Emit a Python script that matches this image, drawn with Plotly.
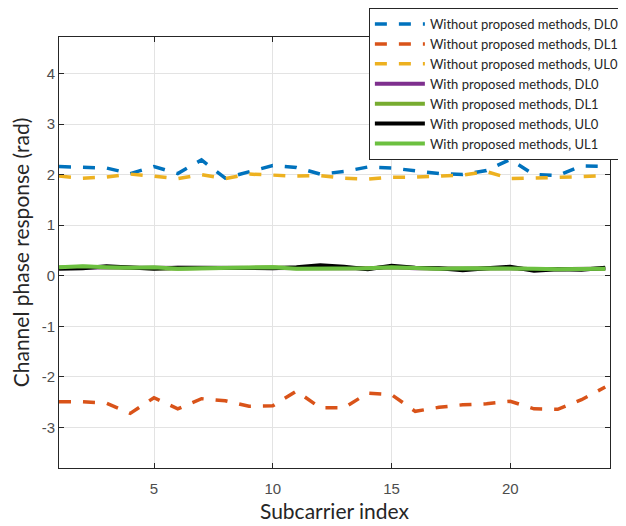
import plotly.graph_objects as go

subcarrier = list(range(1, 25))

dl0_without = [2.16, 2.15, 2.13, 2.02, 2.16, 2.02, 2.29, 1.93, 2.05, 2.18, 2.14, 2.01,
               2.06, 2.15, 2.13, 2.07, 2.02, 2.00, 2.08, 2.30, 2.00, 1.98, 2.17, 2.16]
dl1_without = [-2.49, -2.49, -2.52, -2.72, -2.41, -2.63, -2.43, -2.47, -2.58, -2.57, -2.28, -2.61,
               -2.61, -2.32, -2.35, -2.68, -2.60, -2.55, -2.53, -2.48, -2.63, -2.64, -2.45, -2.20]
ul0_without = [1.97, 1.93, 1.95, 2.01, 1.97, 1.92, 2.00, 1.92, 2.01, 1.99, 1.97, 1.98,
               1.93, 1.91, 1.95, 1.95, 1.97, 1.99, 2.06, 1.92, 1.93, 1.94, 1.96, 1.98]
dl0_with = [0.16, 0.17, 0.17, 0.16, 0.16, 0.15, 0.15, 0.16, 0.16, 0.16, 0.15, 0.16,
            0.16, 0.15, 0.17, 0.15, 0.15, 0.14, 0.15, 0.15, 0.13, 0.13, 0.13, 0.14]
dl1_with = [0.16, 0.18, 0.17, 0.16, 0.16, 0.14, 0.15, 0.15, 0.16, 0.17, 0.15, 0.15,
            0.15, 0.15, 0.17, 0.15, 0.14, 0.14, 0.15, 0.15, 0.13, 0.13, 0.13, 0.14]
ul0_with = [0.14, 0.15, 0.19, 0.17, 0.14, 0.16, 0.16, 0.15, 0.16, 0.15, 0.17, 0.21,
            0.18, 0.13, 0.20, 0.16, 0.15, 0.11, 0.15, 0.18, 0.10, 0.13, 0.12, 0.16]
ul1_with = [0.17, 0.19, 0.17, 0.16, 0.17, 0.14, 0.15, 0.16, 0.16, 0.17, 0.14, 0.14,
            0.15, 0.15, 0.17, 0.15, 0.14, 0.15, 0.15, 0.14, 0.14, 0.13, 0.13, 0.14]

x_ticks = [5, 10, 15, 20]
y_ticks = [-3, -2, -1, 0, 1, 2, 3, 4]
y_tick_labels = ["-3", "-2", "-1", "0", "1", "2", "3", "4"]

series = [
    ("Without proposed methods, DL0", dl0_without, "#0072BD", "12px,12px", 3.5),
    ("Without proposed methods, DL1", dl1_without, "#D95319", "12px,12px", 3.5),
    ("Without proposed methods, UL0", ul0_without, "#EDB120", "12px,12px", 3.5),
    ("With proposed methods, DL0", dl0_with, "#7E2F8E", "solid", 4),
    ("With proposed methods, DL1", dl1_with, "#77AC30", "solid", 4),
    ("With proposed methods, UL0", ul0_with, "#000000", "solid", 4),
    ("With proposed methods, UL1", ul1_with, "#6CC040", "solid", 4),
]

fig = go.Figure()
for name, vals, color, dash, w in series:
    fig.add_trace(go.Scatter(x=subcarrier, y=vals, mode="lines", name=name,
                             line=dict(color=color, dash=dash, width=w)))

axis_common = dict(showline=True, linecolor="#262626", linewidth=1, mirror="ticks",
                   ticks="inside", ticklen=5, tickcolor="#262626",
                   showgrid=True, gridcolor="#e3e3e3", gridwidth=1, zeroline=False,
                   tickfont=dict(family="Liberation Sans, Arial", size=15, color="#4d4d4d"))

# page body has an 8px margin, so the figure is sized to fit 626x526 window
fig.update_layout(
    width=618, height=518,
    margin=dict(l=51, r=16, t=29, b=58, autoexpand=False),
    paper_bgcolor="white", plot_bgcolor="white",
    xaxis=dict(range=[1, 24.2], tickvals=x_ticks,
               title=dict(text="Subcarrier index", standoff=8,
                          font=dict(family="Lato", size=21, color="#262626")),
               ticklabelstandoff=7, **axis_common),
    yaxis=dict(range=[-3.8, 4.72], tickvals=y_ticks, ticktext=y_tick_labels,
               title=dict(text="Channel phase response (rad)", standoff=6,
                          font=dict(family="Lato", size=21, color="#262626")),
               **axis_common),
    legend=dict(x=1.027, y=1.067, xanchor="right", yanchor="top",
                bgcolor="white", bordercolor="#262626", borderwidth=1,
                font=dict(family="Lato", size=13, color="#262626"),
                itemwidth=50, tracegroupgap=0),
    showlegend=True,
)

fig.write_html("out.html")
